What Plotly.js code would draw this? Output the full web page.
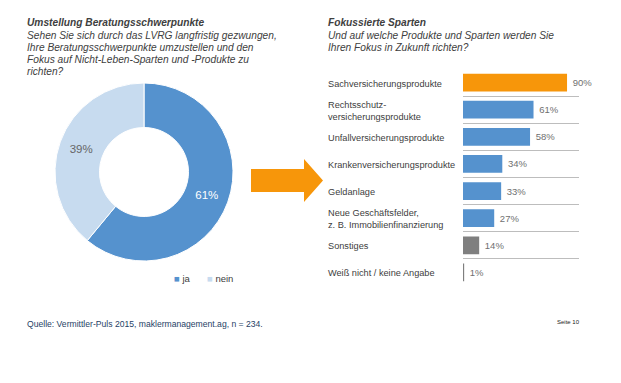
<!DOCTYPE html>
<html>
<head>
<meta charset="utf-8">
<script src="https://cdn.plot.ly/plotly-3.0.1.min.js"></script>
<style>html,body{margin:0;padding:0;background:#fff;}#chart{width:621px;height:383px;}</style>
</head>
<body>
<div id="chart"></div>
<script>
// ---- data ----
const pieLabels = ["ja", "nein"];
const pieValues = [61, 39];

const barCategories = [
  "Sachversicherungsprodukte",
  "Rechtsschutz-<br>versicherungsprodukte",
  "Unfallversicherungsprodukte",
  "Krankenversicherungsprodukte",
  "Geldanlage",
  "Neue Geschäftsfelder,<br>z. B. Immobilienfinanzierung",
  "Sonstiges",
  "Weiß nicht / keine Angabe"
];
const barValues = [90, 61, 58, 34, 33, 27, 14, 1];

const leftTitle = "Umstellung Beratungsschwerpunkte";
const leftQuestion = [
  "Sehen Sie sich durch das LVRG langfristig gezwungen,",
  "Ihre Beratungsschwerpunkte umzustellen und den",
  "Fokus auf Nicht-Leben-Sparten und -Produkte zu",
  "richten?"
];
const rightTitle = "Fokussierte Sparten";
const rightQuestion = [
  "Und auf welche Produkte und Sparten werden Sie",
  "Ihren Fokus in Zukunft richten?"
];
const sourceText = "Quelle: Vermittler-Puls 2015, maklermanagement.ag, n = 234.";
const pageText = "Seite 10";

// ---- styles ----
const W = 621, H = 383;
const px = x => x / W;
const py = y => 1 - y / H;
const FONT = "Liberation Sans, Arial, sans-serif";
const TXT = "#404040";
const ORANGE = "#F7960A";
const BLUE = "#5592CE";
const LIGHTBLUE = "#C7DBEF";
const GREY = "#7F7F7F";
const pieColors = [BLUE, LIGHTBLUE];
const barColors = [ORANGE, BLUE, BLUE, BLUE, BLUE, BLUE, GREY, GREY];

const pieTrace = {
  type: "pie",
  labels: pieLabels,
  values: pieValues,
  hole: 0.5,
  sort: false,
  direction: "clockwise",
  rotation: 0,
  marker: { colors: pieColors, line: { color: "#ffffff", width: 1 } },
  texttemplate: "%{value}%",
  textposition: "inside",
  insidetextorientation: "horizontal",
  insidetextfont: { color: ["#ffffff", "#666666"], size: 11.5, family: FONT },
  domain: { x: [px(55), px(233)], y: [py(261), py(83)] },
  showlegend: false,
  hoverinfo: "label+percent"
};

const barTrace = {
  type: "bar",
  orientation: "h",
  y: barCategories,
  x: barValues,
  xaxis: "x",
  yaxis: "y",
  width: 0.65,
  marker: { color: barColors },
  text: barValues.map(v => "\u00a0" + v + "%"),
  textposition: "outside",
  textfont: { color: "#707070", size: 9.5, family: FONT },
  cliponaxis: false,
  showlegend: false,
  hoverinfo: "y+x"
};

const annotations = [];
function addText(text, x, y, size, opts) {
  annotations.push(Object.assign({
    text: text, xref: "paper", yref: "paper", x: px(x), y: py(y),
    xanchor: "left", yanchor: "middle", showarrow: false, align: "left",
    font: { size: size, color: TXT, family: FONT }
  }, opts || {}));
}
const LH = 12.1;
addText("<b><i>" + leftTitle + "</i></b>", 25, 23, 10.2);
leftQuestion.forEach((t, i) => addText("<i>" + t + "</i>", 25, 23 + LH * (i + 1), 10.2));
addText("<b><i>" + rightTitle + "</i></b>", 326, 23, 10.2);
rightQuestion.forEach((t, i) => addText("<i>" + t + "</i>", 326, 23 + LH * (i + 1), 10.2));
addText(sourceText, 25, 324, 8.6, { font: { size: 8.6, color: "#1F3F66", family: FONT } });
addText(pageText, 555, 322, 6, { font: { size: 6, color: "#222222", family: FONT } });

// custom legend for the donut
const legendX = [172, 205];
pieLabels.forEach((lab, i) => {
  addText('<span style="color:' + pieColors[i] + '">\u25A0</span> ' + lab, legendX[i], 278, 9.5);
});

// category labels, left aligned
barCategories.forEach(c => {
  annotations.push({
    text: c, xref: "paper", yref: "y", x: px(326), y: c,
    xanchor: "left", yanchor: "middle", showarrow: false, align: "left",
    yshift: -1,
    font: { size: 9.2, color: TXT, family: FONT }
  });
});

// arrow
const arrowPts = [[251,169],[304,169],[304,159],[323,180.5],[304,202],[304,192],[251,192]];
const arrowPath = "M " + arrowPts.map(p => px(p[0]) + "," + py(p[1])).join(" L ") + " Z";

const layout = {
  width: W, height: H,
  margin: { l: 0, r: 0, t: 0, b: 0 },
  paper_bgcolor: "#ffffff",
  plot_bgcolor: "rgba(0,0,0,0)",
  font: { family: FONT, color: TXT },
  showlegend: false,
  xaxis: {
    domain: [px(463), px(578.6)], range: [0, 100],
    showgrid: false, zeroline: false, showticklabels: false, showline: false, fixedrange: true
  },
  yaxis: {
    domain: [py(286), py(69)], type: "category",
    categoryorder: "array", categoryarray: barCategories,
    range: [barCategories.length - 0.5, -0.5],
    tickson: "boundaries", showgrid: true, gridcolor: "#bdbdbd", gridwidth: 1,
    showticklabels: false, ticks: "", zeroline: false, showline: false, fixedrange: true
  },
  shapes: [{
    type: "path", xref: "paper", yref: "paper", path: arrowPath,
    fillcolor: ORANGE, line: { width: 0 }
  }],
  annotations: annotations
};

Plotly.newPlot("chart", [pieTrace, barTrace], layout, { displayModeBar: false, staticPlot: true });
</script>
</body>
</html>
